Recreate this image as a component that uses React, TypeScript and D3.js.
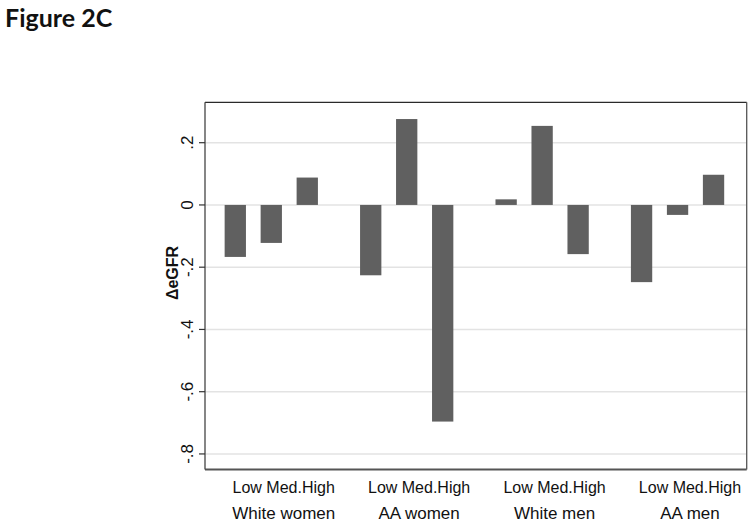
import React from "react";
import * as d3 from "d3";

const groups = ["White women", "AA women", "White men", "AA men"];
const levels = ["Low", "Med.", "High"];
const whiteWomen = [-0.167, -0.122, 0.088];
const aaWomen = [-0.226, 0.276, -0.696];
const whiteMen = [0.018, 0.254, -0.158];
const aaMen = [-0.248, -0.032, 0.097];
const seriesByGroup = [whiteWomen, aaWomen, whiteMen, aaMen];
const yTicks = [0.2, 0, -0.2, -0.4, -0.6, -0.8];
const yTickLabels = [".2", "0", "-.2", "-.4", "-.6", "-.8"];
const levelLabel = "Low Med.High";

const W = 754;
const H = 525;
const plot = { left: 205, right: 746.7, top: 102.3, bottom: 469.5 };

export default function App() {
  const y = d3.scaleLinear().domain([-0.85, 0.3298]).range([plot.bottom, plot.top]);
  const xg = d3.scaleBand<string>().domain(groups).range([plot.left, plot.right]).padding(0);
  const bw = xg.bandwidth();
  const xi = d3
    .scaleBand<string>()
    .domain(levels)
    .range([bw * 0.0908, bw * 0.888])
    .paddingInner(0.408)
    .paddingOuter(0.204);

  const bars: { g: string; l: string; v: number }[] = [];
  groups.forEach((g, gi) => levels.forEach((l, li) => bars.push({ g, l, v: seriesByGroup[gi][li] })));

  const font = "'Liberation Sans', Arial, sans-serif";

  return (
    <svg width={W} height={H} style={{ position: "absolute", left: 0, top: 0, background: "#fff" }}>
      <rect x={0} y={0} width={W} height={H} fill="#fff" />
      <text x={5} y={27} fontFamily="Lato, 'Open Sans', sans-serif" fontWeight="bold" fontSize={25} fill="#111">
        Figure 2C
      </text>
      {yTicks.map((t) => (
        <line key={"g" + t} x1={plot.left} x2={plot.right} y1={y(t)} y2={y(t)} stroke="#e3e3e3" strokeWidth={1.6} />
      ))}
      {bars.map((b) => (
        <rect
          key={b.g + b.l}
          x={(xg(b.g) as number) + (xi(b.l) as number)}
          width={xi.bandwidth()}
          y={y(Math.max(0, b.v))}
          height={Math.abs(y(b.v) - y(0))}
          fill="#606060"
        />
      ))}
      <line x1={plot.left} x2={plot.right} y1={plot.top} y2={plot.top} stroke="#2a2a2a" strokeWidth={1.3} />
      <line x1={plot.right} x2={plot.right} y1={plot.top} y2={plot.bottom} stroke="#555" strokeWidth={1.3} />
      <line x1={plot.left} x2={plot.right} y1={plot.bottom} y2={plot.bottom} stroke="#555" strokeWidth={2} />
      <line x1={plot.left} x2={plot.left} y1={plot.top} y2={plot.bottom} stroke="#444" strokeWidth={1.3} />
      {yTicks.map((t, i) => (
        <g key={"t" + t}>
          <line x1={plot.left - 6} x2={plot.left} y1={y(t)} y2={y(t)} stroke="#333" strokeWidth={1.2} />
          <text
            transform={`translate(193,${y(t)}) rotate(-90)`}
            textAnchor="middle"
            fontFamily={font}
            fontSize={17}
            fill="#111"
          >
            {yTickLabels[i]}
          </text>
        </g>
      ))}
      <text
        transform={`translate(178,${273}) rotate(-90)`}
        textAnchor="middle"
        fontFamily={font}
        fontWeight="bold"
        fontSize={16}
        fill="#111"
      >
        ΔeGFR
      </text>
      {groups.map((g) => {
        const cx = (xg(g) as number) + bw / 2 + 11;
        return (
          <g key={"xl" + g}>
            <text x={cx} y={493} textAnchor="middle" fontFamily={font} fontSize={16} fill="#111">
              {levelLabel}
            </text>
            <text x={cx} y={519} textAnchor="middle" fontFamily={font} fontSize={17} fill="#111">
              {g}
            </text>
          </g>
        );
      })}
    </svg>
  );
}
